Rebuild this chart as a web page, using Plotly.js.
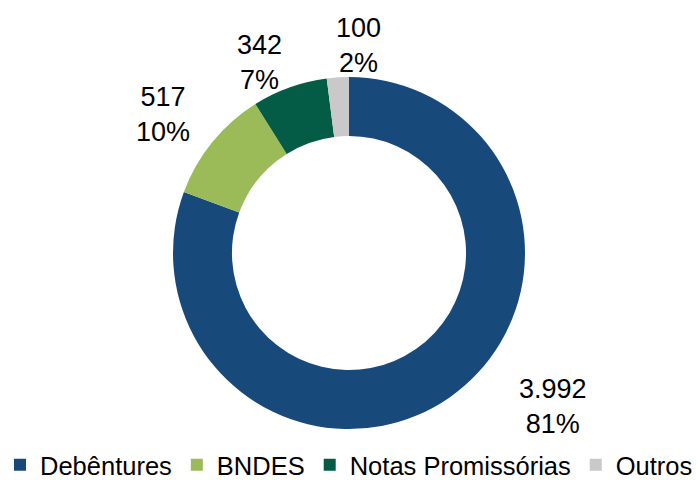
<!DOCTYPE html>
<html>
<head>
<meta charset="utf-8">
<script src="https://cdn.plot.ly/plotly-3.0.1.min.js"></script>
<style>html,body{margin:0;padding:0;background:#fff;}#chart{width:697px;height:480px;}</style>
</head>
<body>
<div id="chart"></div>
<script>
// Data
var categories = ["Debêntures", "BNDES", "Notas Promissórias", "Outros"];
var values = [3992, 517, 342, 100];
var valueLabels = ["3.992", "517", "342", "100"];
var colors = ["#17497A", "#9BBB59", "#045C46", "#C9C9C9"];

// Label positions (layout only, in pixels)
var labelPos = [[553, 406], [163, 114], [259, 63], [358, 45]];

var total = values.reduce(function(a, b){ return a + b; }, 0);
var W = 697, H = 480;

var annotations = categories.map(function(c, i){
  var pct = Math.round(values[i] / total * 100);
  return {
    text: valueLabels[i] + "<br>" + pct + "%",
    xref: "paper", yref: "paper",
    x: labelPos[i][0] / W, y: 1 - labelPos[i][1] / H,
    xanchor: "center", yanchor: "middle",
    showarrow: false,
    font: {family: "Liberation Sans, Arial, sans-serif", size: 27, color: "#000"}
  };
});

var trace = {
  type: "pie",
  labels: categories,
  values: values,
  hole: 0.665,
  sort: false,
  direction: "clockwise",
  rotation: 0,
  textinfo: "none",
  marker: {colors: colors, line: {width: 0}},
  domain: {x: [173 / W, 525 / W], y: [1 - 429 / H, 1 - 77 / H]},
  hoverinfo: "label+value+percent"
};

var layout = {
  width: W, height: H,
  margin: {l: 0, r: 0, t: 0, b: 0, autoexpand: false},
  paper_bgcolor: "#fff",
  showlegend: true,
  legend: {
    orientation: "h",
    x: 0, xanchor: "left",
    y: -0.018, yanchor: "bottom",
    font: {family: "Liberation Sans, Arial, sans-serif", size: 25.5, color: "#000"},
    itemclick: false
  },
  annotations: annotations
};

Plotly.newPlot("chart", [trace], layout, {displayModeBar: false, staticPlot: true});
</script>
</body>
</html>
